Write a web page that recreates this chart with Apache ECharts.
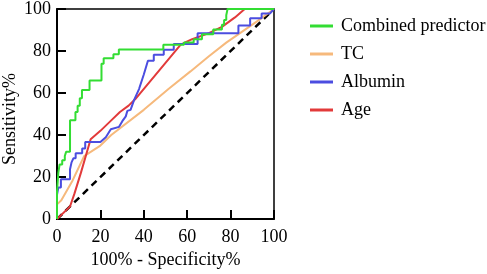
<!DOCTYPE html>
<html>
<head>
<meta charset="utf-8">
<script src="https://cdn.jsdelivr.net/npm/echarts@6/dist/echarts.min.js"></script>
<style>
  html, body { margin: 0; padding: 0; background: #fff; }
  #roc_chart { width: 487px; height: 274px; }
</style>
</head>
<body>
<div id="roc_chart"></div>
<script>
var xTicks = [0, 20, 40, 60, 80, 100];

var combinedData = [[0, 0], [0, 13], [0.6, 13], [0.6, 22], [1.2, 22], [1.2, 26], [2.4, 26], [2.4, 28],
    [3.6, 28], [3.6, 30], [4.2, 30], [4.2, 32], [6, 32], [6, 47], [8.5, 47], [8.5, 51], [9.5, 51],
    [9.5, 54], [10.5, 54], [10.5, 57.5], [11.5, 57.5], [11.5, 61.5], [15, 61.5], [15, 66], [20.5, 66],
    [20.5, 74], [21.5, 74], [21.5, 76.5], [26, 76.5], [26, 78.5], [28.5, 78.5], [28.5, 80.7], [49, 80.7],
    [49, 83], [58.5, 83], [58.5, 84], [63, 84], [63, 85.6], [66.8, 85.6], [66.8, 88], [72, 88],
    [72, 90.2], [76, 90.2], [76, 92.5], [77, 92.5], [77, 94.8], [78, 94.8], [78, 97], [78.6, 97],
    [78.6, 100], [100, 100]];

var tcData = [[0, 7], [2, 9], [7, 18], [12.5, 30], [20, 35], [25, 40], [40, 52], [51.5, 62],
    [61.5, 70.3], [70, 77.5], [78, 84], [85, 89], [92, 94], [100, 100]];

var albuminData = [[0, 0], [0, 11.5], [0.6, 11.5], [0.6, 15], [1.8, 15], [1.8, 19], [6, 19], [6, 23.7],
    [6.7, 23.7], [6.7, 27], [7.6, 27], [7.6, 29], [8.6, 29], [8.6, 31.3], [11.6, 31.3], [11.6, 33.6],
    [13, 33.6], [13, 36.7], [20, 36.7], [22.5, 39], [24.8, 42.8], [28.6, 43.9], [30.1, 46.6],
    [31.7, 48.9], [32.4, 51.5], [33.9, 52], [35.5, 56.6], [37.8, 61.9], [40, 68.8], [41.9, 75.4],
    [44.6, 75.4], [44.6, 78.2], [49.2, 78.2], [49.2, 80.6], [53.8, 80.6], [53.8, 83.3], [64.8, 83.3],
    [64.8, 88.4], [83.6, 88.4], [83.6, 92.2], [89, 92.2], [89, 95.6], [94.3, 95.6], [94.3, 97.9],
    [98.2, 97.9], [100, 100]];

var ageData = [[0, 0], [6, 6], [8, 12], [11, 22], [15.5, 38], [20, 42], [25, 47], [29, 51], [33, 54],
    [36, 57], [57, 83], [62, 85.5], [70, 88.5], [76, 91.5], [82, 96], [86.5, 100], [100, 100]];

var refLine = [[0, 0], [100, 100]];

var fontFamily = 'Liberation Serif';

var rocChart = echarts.init(document.getElementById('roc_chart'));

function makeSeries(name, data, color, z) {
    return {
        name: name,
        type: 'line',
        data: data,
        symbol: 'none',
        z: z,
        lineStyle: { color: color, width: 2 },
        itemStyle: { color: color },
        animation: false
    };
}

var rocOptions = {
    animation: false,
    textStyle: { fontFamily: fontFamily },
    grid: {
        left: 56,
        right: 213,
        top: 7,
        bottom: 49,
        show: true,
        borderColor: '#000',
        borderWidth: 1.5,
        backgroundColor: 'transparent'
    },
    legend: {
        orient: 'vertical',
        left: 305,
        top: 12,
        itemWidth: 23,
        itemHeight: 3,
        itemGap: 10,
        icon: 'rect',
        data: ['Combined predictor', 'TC', 'Albumin', 'Age'],
        textStyle: { fontFamily: fontFamily, fontSize: 18, color: '#000', padding: [0, 0, 0, 3] }
    },
    xAxis: {
        type: 'value',
        min: 0,
        max: 100,
        interval: 20,
        name: '100% - Specificity%',
        nameLocation: 'middle',
        nameGap: 28,
        nameTextStyle: { fontFamily: fontFamily, fontSize: 18, color: '#000' },
        axisLine: { lineStyle: { color: '#000', width: 2 } },
        axisTick: { inside: true, length: 9, lineStyle: { color: '#000', width: 2 } },
        axisLabel: { fontFamily: fontFamily, fontSize: 18, color: '#000', margin: 9 },
        splitLine: { show: false }
    },
    yAxis: {
        type: 'value',
        min: 0,
        max: 100,
        interval: 20,
        name: 'Sensitivity%',
        nameLocation: 'middle',
        nameGap: 38,
        nameTextStyle: { fontFamily: fontFamily, fontSize: 18, color: '#000', padding: [0, 10, 0, 0] },
        axisLine: { show: true, lineStyle: { color: '#000', width: 2 } },
        axisTick: { show: true, inside: true, length: 9, lineStyle: { color: '#000', width: 2 } },
        axisLabel: { fontFamily: fontFamily, fontSize: 18, color: '#000', margin: 6 },
        splitLine: { show: false }
    },
    series: [
        {
            name: 'ref',
            type: 'line',
            data: refLine,
            symbol: 'none',
            z: 1,
            lineStyle: { color: '#000', width: 2.5, type: [7, 5] },
            animation: false
        },
        makeSeries('TC', tcData, '#f6b97c', 2),
        makeSeries('Age', ageData, '#e23a3a', 3),
        makeSeries('Albumin', albuminData, '#4b4de0', 4),
        makeSeries('Combined predictor', combinedData, '#33dd33', 5)
    ]
};
rocChart.setOption(rocOptions);
</script>
</body>
</html>
